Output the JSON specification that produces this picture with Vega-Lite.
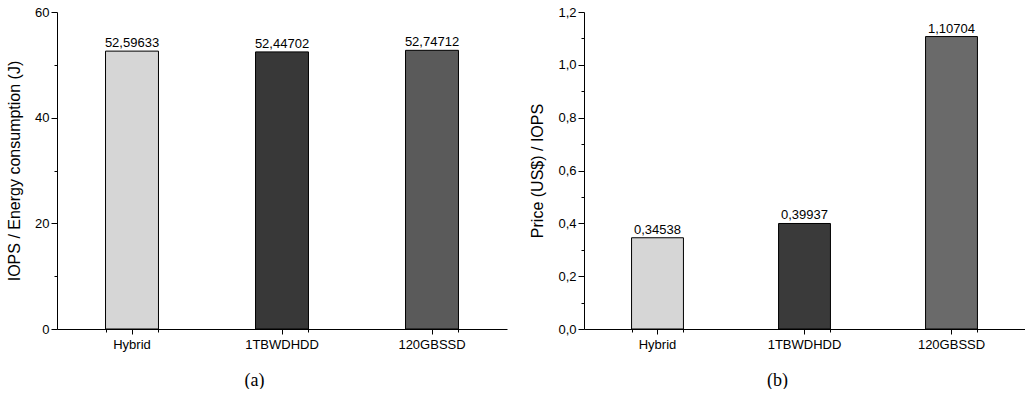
{
  "$schema": "https://vega.github.io/schema/vega-lite/v6.json",
  "padding": {"left": 6, "top": 6, "right": 0, "bottom": 0},
  "spacing": 22,
  "config": {
    "locale": {"number": {"decimal": ",", "thousands": ".", "grouping": [3], "currency": ["", ""]}},
    "view": {"stroke": null},
    "font": "Liberation Sans",
    "axis": {"domainColor": "black", "tickColor": "black", "labelColor": "black", "titleColor": "black", "labelFont": "Liberation Sans", "labelFontSize": 13, "titleFont": "Liberation Sans", "titleFontSize": 16, "titleFontWeight": "normal", "grid": false, "domainWidth": 1, "tickWidth": 1, "labelPadding": 2}
  },
  "resolve": {"scale": {"color": "independent"}},
  "datasets": {
    "energy": [
      {"device": "Hybrid", "iops_per_joule": 52.59633},
      {"device": "1TBWDHDD", "iops_per_joule": 52.44702},
      {"device": "120GBSSD", "iops_per_joule": 52.74712}
    ],
    "price": [
      {"device": "Hybrid", "price_per_iops": 0.34538},
      {"device": "1TBWDHDD", "price_per_iops": 0.39937},
      {"device": "120GBSSD", "price_per_iops": 1.10704}
    ]
  },
  "hconcat": [
    {
      "width": 450,
      "height": 317,
      "data": {"name": "energy"},
      "encoding": {
        "y": {"field": "iops_per_joule", "type": "quantitative",
          "scale": {"domain": [0, 60], "nice": false},
          "axis": {"values": [0, 10, 20, 30, 40, 50, 60], "format": "d", "labelExpr": "datum.value % 20 === 0 ? datum.label : ''", "tickSize": {"condition": {"test": "datum.value % 20 === 0", "value": 6}, "value": 3}, "title": "IOPS / Energy consumption (J)", "titlePadding": 12}}
      },
      "layer": [
        {
          "mark": {"type": "bar", "stroke": "black", "strokeWidth": 1},
          "encoding": {
            "x": {"field": "device", "type": "nominal", "sort": null,
              "scale": {"paddingInner": 0.647, "paddingOuter": 0.3235},
              "axis": {"orient": "bottom", "labelAngle": 0, "tickSize": 5, "labelPadding": 4, "title": "(a)", "titleFont": "Liberation Serif", "titleFontSize": 18, "titleX": 197, "titleY": 56, "titleBaseline": "alphabetic"}},
            "color": {"field": "device", "type": "nominal", "legend": null,
              "scale": {"domain": ["Hybrid", "1TBWDHDD", "120GBSSD"], "range": ["#d6d6d6", "#383838", "#5a5a5a"]}}
          }
        },
        {
          "mark": {"type": "text", "baseline": "bottom", "dy": -1, "fontSize": 13, "color": "black"},
          "encoding": {
            "x": {"field": "device", "type": "nominal", "sort": null,
              "axis": {"orient": "bottom", "tickBand": "extent", "labels": false, "domain": false, "tickSize": 3, "title": null}},
            "text": {"field": "iops_per_joule", "type": "quantitative", "format": ".5f"}
          }
        }
      ],
      "resolve": {"axis": {"x": "independent"}}
    },
    {
      "width": 441,
      "height": 317,
      "data": {"name": "price"},
      "encoding": {
        "y": {"field": "price_per_iops", "type": "quantitative",
          "scale": {"domain": [0, 1.2], "nice": false},
          "axis": {"values": [0, 0.1, 0.2, 0.3, 0.4, 0.5, 0.6, 0.7, 0.8, 0.9, 1.0, 1.1, 1.2], "format": ".1f", "labelExpr": "round(datum.value * 10) % 2 === 0 ? datum.label : ''", "tickSize": {"condition": {"test": "round(datum.value * 10) % 2 === 0", "value": 6}, "value": 3}, "title": "Price (US$) / IOPS", "titlePadding": 12}}
      },
      "layer": [
        {
          "mark": {"type": "bar", "stroke": "black", "strokeWidth": 1},
          "encoding": {
            "x": {"field": "device", "type": "nominal", "sort": null,
              "scale": {"paddingInner": 0.647, "paddingOuter": 0.3235},
              "axis": {"orient": "bottom", "labelAngle": 0, "tickSize": 5, "labelPadding": 4, "title": "(b)", "titleFont": "Liberation Serif", "titleFontSize": 18, "titleX": 193, "titleY": 56, "titleBaseline": "alphabetic"}},
            "color": {"field": "device", "type": "nominal", "legend": null,
              "scale": {"domain": ["Hybrid", "1TBWDHDD", "120GBSSD"], "range": ["#d6d6d6", "#3a3a3a", "#6a6a6a"]}}
          }
        },
        {
          "mark": {"type": "text", "baseline": "bottom", "dy": -1, "fontSize": 13, "color": "black"},
          "encoding": {
            "x": {"field": "device", "type": "nominal", "sort": null,
              "axis": {"orient": "bottom", "tickBand": "extent", "labels": false, "domain": false, "tickSize": 3, "title": null}},
            "text": {"field": "price_per_iops", "type": "quantitative", "format": ".5f"}
          }
        }
      ],
      "resolve": {"axis": {"x": "independent"}}
    }
  ]
}
